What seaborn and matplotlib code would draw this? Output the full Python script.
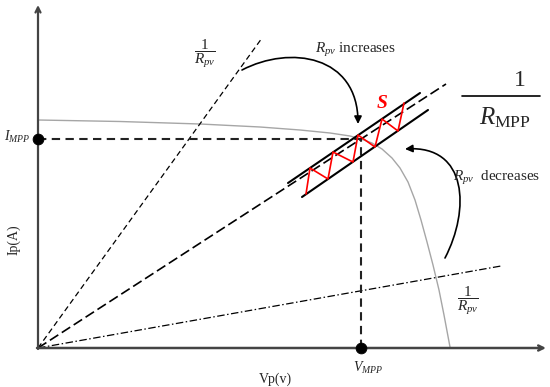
import numpy as np
import pandas as pd
import matplotlib
matplotlib.use("Agg")
import matplotlib.pyplot as plt
import seaborn as sns
from matplotlib.patches import FancyArrowPatch
from matplotlib.path import Path

sns.set_theme(style="white")
plt.rcParams['font.family'] = ['Liberation Serif', 'DejaVu Serif']
plt.rcParams['mathtext.fontset'] = 'custom'
plt.rcParams['mathtext.rm'] = 'Liberation Serif'
plt.rcParams['mathtext.it'] = 'Liberation Serif:italic'
plt.rcParams['mathtext.bf'] = 'Liberation Serif:bold:italic'

# ---- data (schematic units, origin at the axes corner) ----
iv_v = [0, 82, 162, 222, 262, 292, 312, 323, 334, 344, 354, 362, 370, 377, 383, 389, 395, 401, 406, 412]
iv_i = [228, 226.5, 224, 221, 218, 215, 212, 209, 205, 199, 190, 180, 166, 148, 128, 106, 83, 58, 33, 1]
v_mpp, i_mpp = 323, 209.5
steep_v, steep_i = [0, 224], [0, 310]
mpp_v, mpp_i = [0, 408], [0, 264]
low_v, low_i = [0, 463], [0, 82]
band_up_v, band_up_i = [250, 382], [165, 255]
band_lo_v, band_lo_i = [264, 390], [151, 238]
zig_v = [268, 272, 290, 295, 315, 320, 337, 344, 360, 366]
zig_i = [154, 180, 169, 196, 186, 213, 201, 229, 217, 245]

fig = plt.figure(figsize=(5.5, 3.87), dpi=100)
ax = fig.add_axes([0, 0, 1, 1])
ax.set_xlim(-38, 512)
ax.set_ylim(-39, 348)
ax.axis('off')

def line(xs, ys, **kw):
    sns.lineplot(x=xs, y=ys, ax=ax, estimator=None, sort=False, errorbar=None, **kw)

# I-V curve
line(iv_v, iv_i, color='#a6a6a6', lw=1.0)
# load lines
line(steep_v, steep_i, color='black', lw=0.9, linestyle=(0, (4.5, 2.8)))
line(mpp_v, mpp_i, color='black', lw=1.2, linestyle=(0, (6, 2.5)))
line(low_v, low_i, color='black', lw=0.9, linestyle=(0, (6, 2, 1.2, 2)))
# MPP guides
line([0, v_mpp], [i_mpp, i_mpp], color='#222222', lw=1.5, linestyle=(0, (4, 2.6)))
line([v_mpp, v_mpp], [0, i_mpp], color='#222222', lw=1.5, linestyle=(0, (4, 2.6)))
# band & zigzag
line(band_up_v, band_up_i, color='black', lw=1.5)
line(band_lo_v, band_lo_i, color='black', lw=1.5)
line(zig_v, zig_i, color='red', lw=1.2)

sns.scatterplot(x=[0, v_mpp], y=[i_mpp, 0], ax=ax, color='black', s=60, zorder=5, edgecolor='black')

# axes with arrows
ax.annotate('', xy=(0, 343), xytext=(0, -1),
            arrowprops=dict(arrowstyle='->', lw=1.6, color='#444444', mutation_scale=9, shrinkA=0, shrinkB=0))
ax.annotate('', xy=(508, 0), xytext=(-1, 0),
            arrowprops=dict(arrowstyle='->', lw=1.8, color='#444444', mutation_scale=9, shrinkA=0, shrinkB=0))

# curved arrows
p1 = Path([(204, 278), (252, 303), (320, 293), (320, 224)],
          [Path.MOVETO, Path.CURVE4, Path.CURVE4, Path.CURVE4])
ax.add_patch(FancyArrowPatch(path=p1, arrowstyle='-|>', mutation_scale=11, color='black', lw=1.2))
p2 = Path([(407, 90), (432, 138), (430, 203), (367, 199)],
          [Path.MOVETO, Path.CURVE4, Path.CURVE4, Path.CURVE4])
ax.add_patch(FancyArrowPatch(path=p2, arrowstyle='-|>', mutation_scale=11, color='black', lw=1.2))

# labels
ax.text(167, 294, r'$\dfrac{1}{R_{pv}}$', fontsize=11, ha='center', va='center')
ax.text(430, 47, r'$\dfrac{1}{R_{pv}}$', fontsize=11, ha='center', va='center')
ax.text(317, 298, r'$R_{pv}$ increases', fontsize=11, ha='center', va='center')
ax.text(459, 170, r'$R_{pv}$  decreases', fontsize=11, ha='center', va='center')
ax.text(344, 245, 'S', fontsize=14, color='red', fontweight='bold', fontstyle='italic',
        ha='center', va='center')
ax.text(482, 268, '1', fontsize=17, ha='center', va='center')
ax.plot([424, 502], [252, 252], color='black', lw=1.2)
ax.text(467, 230, r'$R_{\mathrm{MPP}}$', fontsize=18, ha='center', va='center')
ax.text(-8, 211, r'$I_{MPP}$', fontsize=10, ha='right', va='center')
ax.text(330, -20, r'$V_{MPP}$', fontsize=10, ha='center', va='center')
ax.text(237, -31, 'Vp(v)', fontsize=10, ha='center', va='center')
ax.text(-24, 108, 'Ip(A)', fontsize=10, ha='center', va='center', rotation=90)

fig.savefig('out.png', dpi=100)
